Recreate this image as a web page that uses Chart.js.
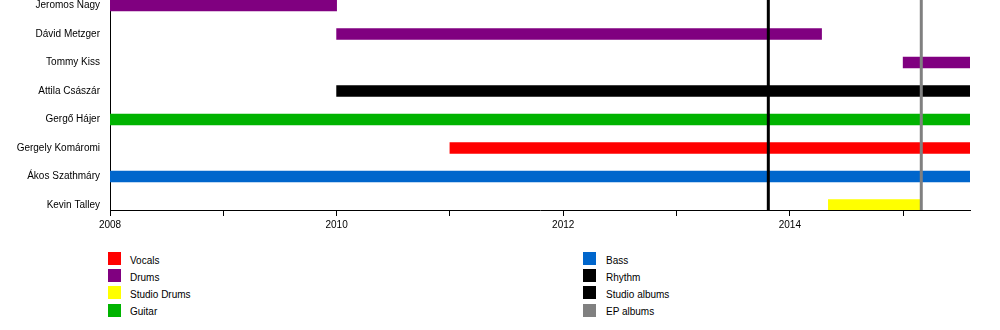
<!DOCTYPE html>
<html>
<head>
<meta charset="utf-8">
<script src="https://cdn.jsdelivr.net/npm/chart.js@4/dist/chart.umd.min.js"></script>
<style>
  html, body { margin: 0; padding: 0; background: #fff; }
  #wrap { position: relative; width: 1000px; height: 330px; overflow: hidden;
          font-family: "Liberation Sans", Arial, sans-serif; }
  #chartBox { position: absolute; left: 0; top: 0; width: 1000px; height: 235px; }
  .lg-sq { position: absolute; width: 13px; height: 13px; }
  .lg-tx { position: absolute; font-size: 10px; line-height: 12px; color: #000; white-space: nowrap; }
</style>
</head>
<body>
<div id="wrap">
  <div id="chartBox"><canvas id="c" width="1000" height="235"></canvas></div>
  <div id="legend"></div>
</div>
<script>
// ---- data ----
const members = ['Jeromos Nagy', 'Dávid Metzger', 'Tommy Kiss', 'Attila Császár',
                 'Gergő Hájer', 'Gergely Komáromi', 'Ákos Szathmáry', 'Kevin Talley'];
const timelineStart = 2008;
const timelineEnd = 2015.59;
const axisYears = [2008, 2009, 2010, 2011, 2012, 2013, 2014, 2015];
const labelledYears = [2008, 2010, 2012, 2014];

const vocalsSpans      = [['Gergely Komáromi', 2011.0, 2015.59]];
const drumsSpans       = [['Jeromos Nagy', 2008.0, 2010.0], ['Dávid Metzger', 2010.0, 2014.28], ['Tommy Kiss', 2015.0, 2015.59]];
const studioDrumsSpans = [['Kevin Talley', 2014.34, 2015.16]];
const guitarSpans      = [['Gergő Hájer', 2008.0, 2015.59]];
const bassSpans        = [['Ákos Szathmáry', 2008.0, 2015.59]];
const rhythmSpans      = [['Attila Császár', 2010.0, 2015.59]];

const studioAlbums = [2013.81];
const epAlbums     = [2015.16];

// ---- build ----
const rowMin = -0.193, rowMax = 7.175;

function spans(list) {
  return list.map(([m, a, b]) => ({ y: members.indexOf(m), x: [a, b] }));
}
function vlines(dates) {
  const pts = [];
  dates.forEach(d => { pts.push({ x: d, y: rowMin }, { x: d, y: rowMax }, { x: NaN, y: NaN }); });
  return pts;
}
function barSet(label, color, list) {
  return { type: 'bar', label, data: spans(list), backgroundColor: color, borderWidth: 0,
           grouped: false, barThickness: 11, order: 5 };
}
function lineSet(label, color, dates) {
  return { type: 'line', label, data: vlines(dates), borderColor: color, backgroundColor: color,
           borderWidth: 3, pointRadius: 0, spanGaps: false, order: 0, fill: false, tension: 0 };
}

const legendLeft = [
  barSet('Vocals', '#ff0000', vocalsSpans),
  barSet('Drums', '#800080', drumsSpans),
  barSet('Studio Drums', '#ffff00', studioDrumsSpans),
  barSet('Guitar', '#00b300', guitarSpans)
];
const legendRight = [
  barSet('Bass', '#0066cc', bassSpans),
  barSet('Rhythm', '#000000', rhythmSpans),
  lineSet('Studio albums', '#000000', studioAlbums),
  lineSet('EP albums', '#808080', epAlbums)
];

const font = { family: '"Liberation Sans", Arial, sans-serif', size: 10 };

new Chart(document.getElementById('c'), {
  data: { datasets: [...legendLeft, ...legendRight] },
  options: {
    indexAxis: 'y',
    responsive: false,
    animation: false,
    layout: { padding: { left: 0, right: 30, top: 0, bottom: 0 }, autoPadding: false },
    plugins: { legend: { display: false }, tooltip: { enabled: false } },
    scales: {
      x: {
        type: 'linear', position: 'bottom', offset: false,
        min: timelineStart, max: timelineEnd,
        afterBuildTicks: s => { s.ticks = axisYears.map(v => ({ value: v })); },
        afterFit: s => { s.height = 25; s.paddingLeft = 0; s.paddingRight = 0; },
        ticks: { autoSkip: false, maxRotation: 0, padding: 3, color: '#000', font,
                 callback: v => labelledYears.includes(v) ? String(v) : '' },
        grid: { offset: false, drawOnChartArea: false, drawTicks: true, tickLength: 6, tickColor: '#000', tickWidth: 1 },
        border: { display: true, color: '#000', width: 1 }
      },
      y: {
        type: 'linear', reverse: true, offset: false,
        min: rowMin, max: rowMax,
        afterBuildTicks: s => { s.ticks = members.map((_, i) => ({ value: i })); },
        afterFit: s => { s.width = 110; s.paddingTop = 0; s.paddingBottom = 0; },
        ticks: { autoSkip: false, padding: 10, color: '#000', font,
                 callback: v => members[v] },
        grid: { offset: false, drawOnChartArea: false, drawTicks: false },
        border: { display: true, color: '#000', width: 1 }
      }
    }
  }
});

// ---- legend ----
const legendEl = document.getElementById('legend');
function addLegend(sets, sqX, txX) {
  sets.forEach((ds, i) => {
    const top = 252 + i * 17.2;
    const sq = document.createElement('div');
    sq.className = 'lg-sq';
    sq.style.left = sqX + 'px'; sq.style.top = top + 'px';
    sq.style.background = ds.type === 'line' ? ds.borderColor : ds.backgroundColor;
    const tx = document.createElement('div');
    tx.className = 'lg-tx';
    tx.style.left = txX + 'px'; tx.style.top = (top + 2.5) + 'px';
    tx.textContent = ds.label;
    legendEl.appendChild(sq); legendEl.appendChild(tx);
  });
}
addLegend(legendLeft, 108, 130);
addLegend(legendRight, 583, 606);
</script>
</body>
</html>
